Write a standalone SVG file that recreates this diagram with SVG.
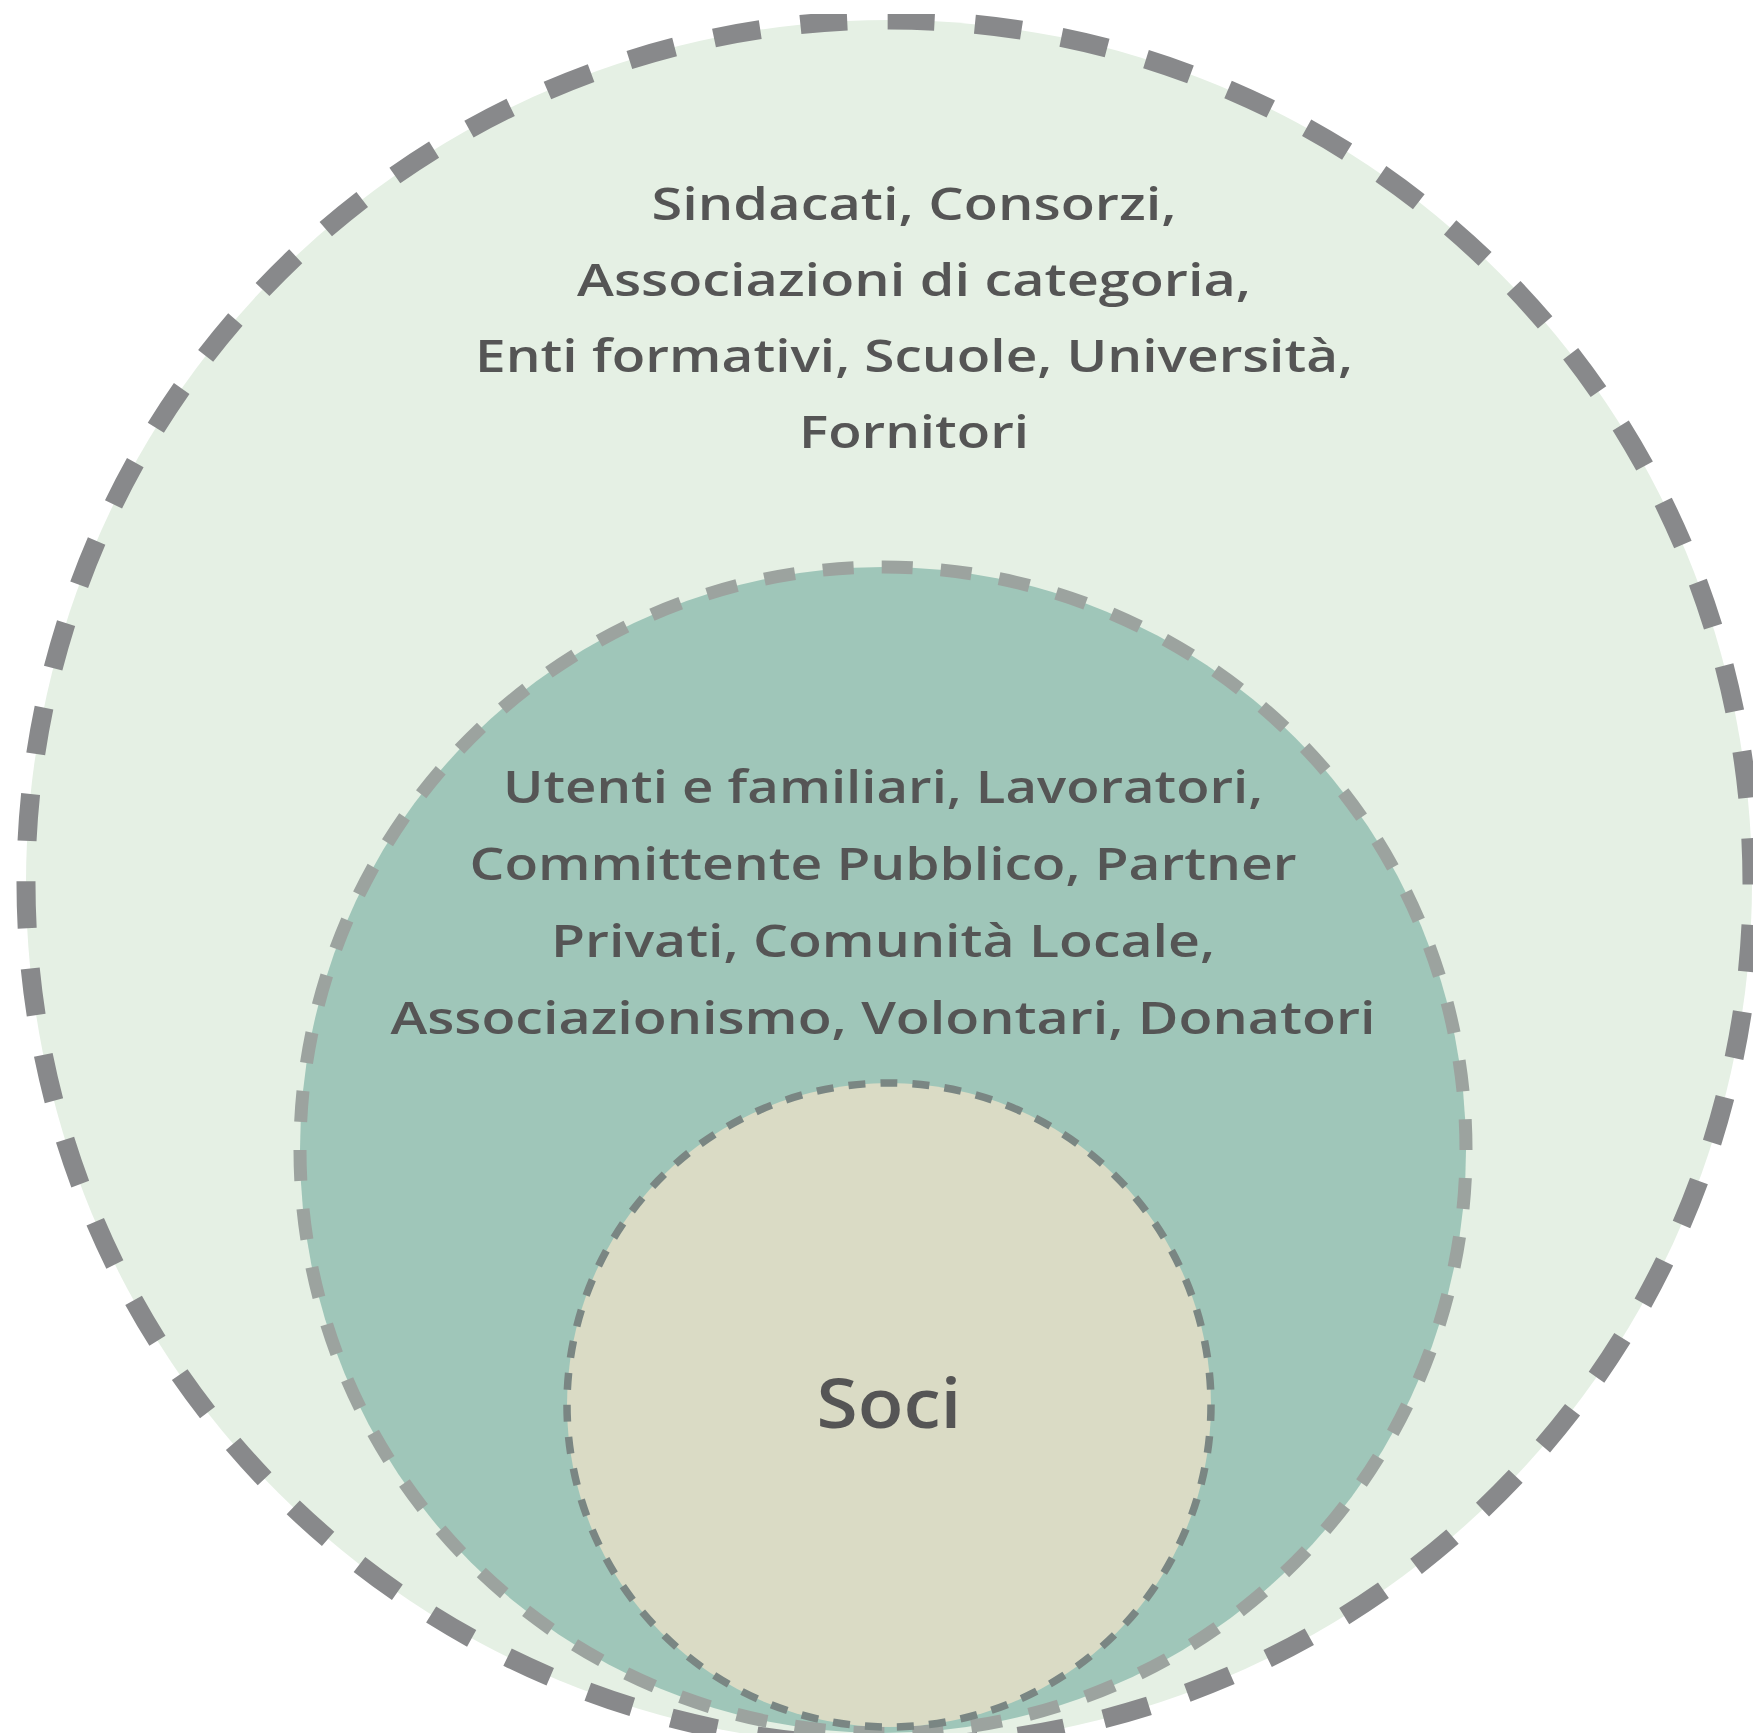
<svg xmlns="http://www.w3.org/2000/svg" width="1753" height="1733" viewBox="0 0 1753 1733">
  <style>
    .ring { stroke-linecap: butt; }
    .outer { fill: #e5f0e4; stroke: #88898b; stroke-width: 19; stroke-dasharray: 47 40.46; stroke-dashoffset: 45.6; }
    .middle { fill: #9fc6b9; stroke: #9ca39f; stroke-width: 13; stroke-dasharray: 31 28.08; stroke-dashoffset: 31; }
    .inner { fill: #dadbc5; stroke: #7a8683; stroke-width: 7.5; stroke-dasharray: 17 15.11; stroke-dashoffset: 1; }
    .lbl { font-family: "Open Sans", "Noto Sans", "Liberation Sans", sans-serif; font-weight: 600; fill: #555555; text-anchor: middle; }
    .t46 { font-size: 46px; }
    .t68 { font-size: 68px; }
  </style>
  <defs>
    <clipPath id="topclip">
      <rect x="0" y="14" width="1753" height="1719"/>
    </clipPath>
  </defs>
  <rect width="1753" height="1733" fill="#ffffff"/>
  <g id="outer-stakeholders" clip-path="url(#topclip)">
    <circle class="ring outer" cx="889" cy="883" r="863"/>
    <text class="lbl t46" x="914" y="220" textLength="525" lengthAdjust="spacingAndGlyphs">Sindacati, Consorzi,</text>
    <text class="lbl t46" x="914" y="296" textLength="674" lengthAdjust="spacingAndGlyphs">Associazioni di categoria,</text>
    <text class="lbl t46" x="914" y="372" textLength="878" lengthAdjust="spacingAndGlyphs">Enti formativi, Scuole, Università,</text>
    <text class="lbl t46" x="914" y="448" textLength="230" lengthAdjust="spacingAndGlyphs">Fornitori</text>
  </g>
  <g id="middle-stakeholders">
    <circle class="ring middle" cx="883" cy="1150" r="583"/>
    <text class="lbl t46" x="883" y="803" textLength="760" lengthAdjust="spacingAndGlyphs">Utenti e familiari, Lavoratori,</text>
    <text class="lbl t46" x="883" y="880" textLength="827" lengthAdjust="spacingAndGlyphs">Committente Pubblico, Partner</text>
    <text class="lbl t46" x="883" y="957" textLength="664" lengthAdjust="spacingAndGlyphs">Privati, Comunità Locale,</text>
    <text class="lbl t46" x="883" y="1034" textLength="985" lengthAdjust="spacingAndGlyphs">Associazionismo, Volontari, Donatori</text>
  </g>
  <g id="soci">
    <circle class="ring inner" cx="889" cy="1405" r="322"/>
    <text class="lbl t68" x="889" y="1428" textLength="145" lengthAdjust="spacingAndGlyphs">Soci</text>
  </g>
  <g id="connectors"/>
</svg>
